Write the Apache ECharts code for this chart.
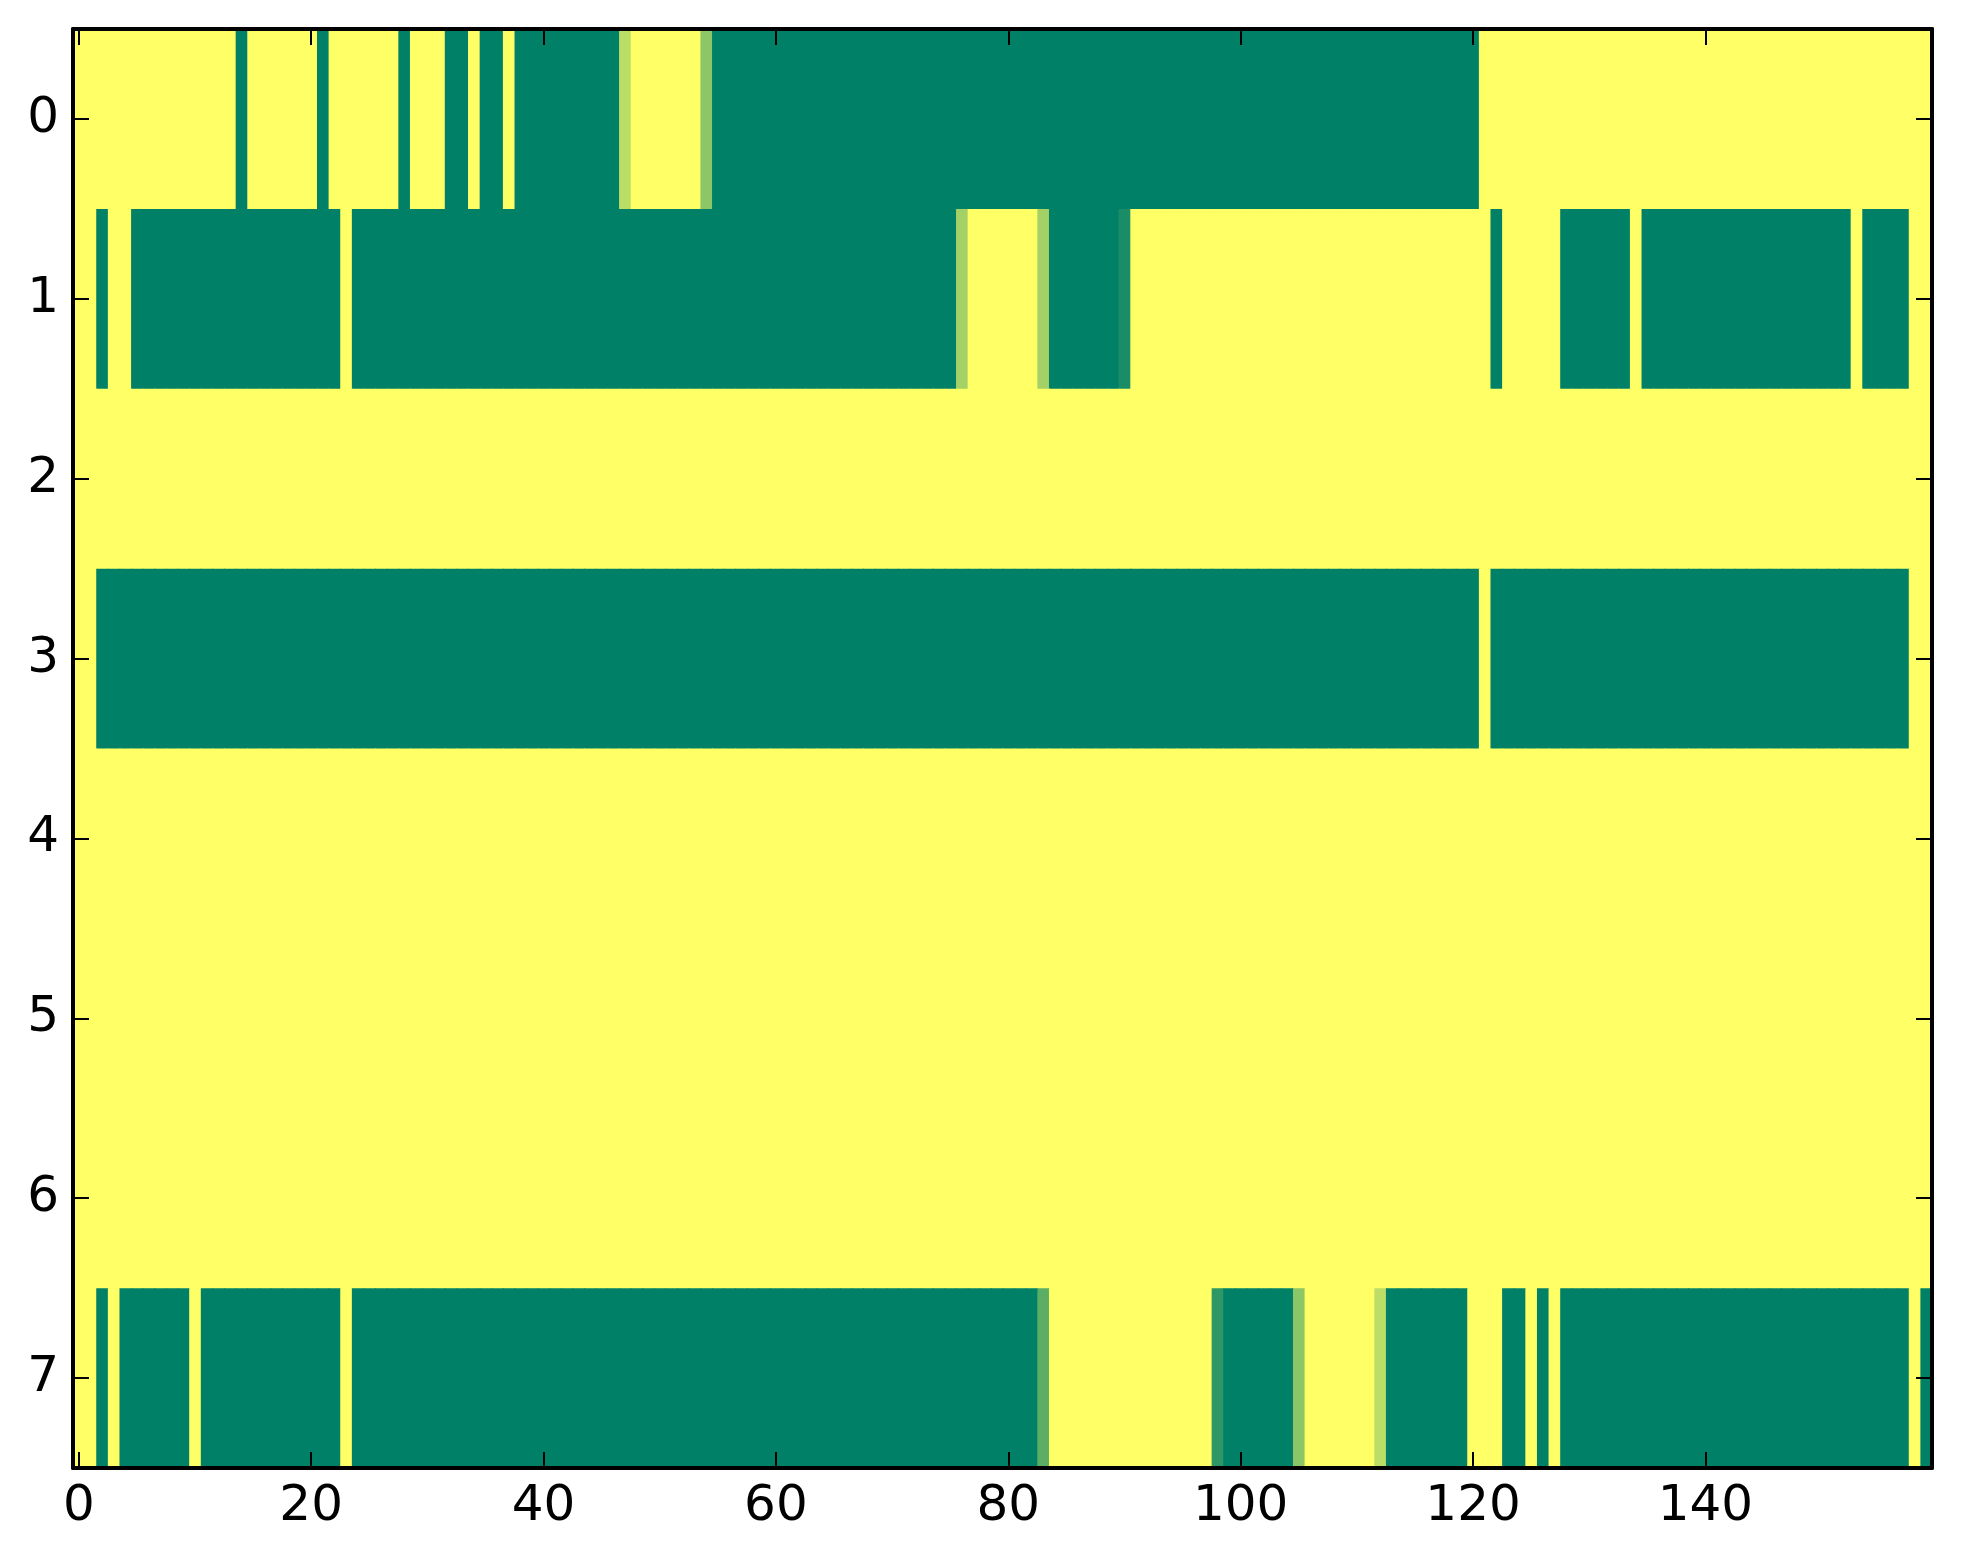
<!DOCTYPE html>
<html>
<head>
<meta charset="utf-8">
<script src="https://cdn.jsdelivr.net/npm/echarts@6/dist/echarts.min.js"></script>
<style>
html,body{margin:0;padding:0;background:#fff;}
#chart{width:1963px;height:1564px;}
</style>
</head>
<body>
<div id="chart"></div>
<script>
// Column indices 0..159 and row labels
const columnCount = 160;
const rowLabels = ['0','1','2','3','4','5','6','7'];
const xTickLabels = ['0','20','40','60','80','100','120','140'];

// Cell values per row (0 = dark green, 1 = yellow), 160 columns each, written in groups of 20
const row0 = [
  1,1,1,1,1,1,1,1,1,1,1,1,1,1,0,1,1,1,1,1,
  1,0,1,1,1,1,1,1,0,1,1,1,0,0,1,0,0,1,0,0,
  0,0,0,0,0,0,0,0.73,1,1,1,1,1,1,0.55,0,0,0,0,0,
  0,0,0,0,0,0,0,0,0,0,0,0,0,0,0,0,0,0,0,0,
  0,0,0,0,0,0,0,0,0,0,0,0,0,0,0,0,0,0,0,0,
  0,0,0,0,0,0,0,0,0,0,0,0,0,0,0,0,0,0,0,0,
  0,1,1,1,1,1,1,1,1,1,1,1,1,1,1,1,1,1,1,1,
  1,1,1,1,1,1,1,1,1,1,1,1,1,1,1,1,1,1,1,1
];
const row1 = [
  1,1,0,1,1,0,0,0,0,0,0,0,0,0,0,0,0,0,0,0,
  0,0,0,1,0,0,0,0,0,0,0,0,0,0,0,0,0,0,0,0,
  0,0,0,0,0,0,0,0,0,0,0,0,0,0,0,0,0,0,0,0,
  0,0,0,0,0,0,0,0,0,0,0,0,0,0,0,0,0.64,1,1,1,
  1,1,1,0.64,0,0,0,0,0,0,0.1,1,1,1,1,1,1,1,1,1,
  1,1,1,1,1,1,1,1,1,1,1,1,1,1,1,1,1,1,1,1,
  1,1,0,1,1,1,1,1,0,0,0,0,0,0,1,0,0,0,0,0,
  0,0,0,0,0,0,0,0,0,0,0,0,0,1,0,0,0,0,1,1
];
const row2 = [
  1,1,1,1,1,1,1,1,1,1,1,1,1,1,1,1,1,1,1,1,
  1,1,1,1,1,1,1,1,1,1,1,1,1,1,1,1,1,1,1,1,
  1,1,1,1,1,1,1,1,1,1,1,1,1,1,1,1,1,1,1,1,
  1,1,1,1,1,1,1,1,1,1,1,1,1,1,1,1,1,1,1,1,
  1,1,1,1,1,1,1,1,1,1,1,1,1,1,1,1,1,1,1,1,
  1,1,1,1,1,1,1,1,1,1,1,1,1,1,1,1,1,1,1,1,
  1,1,1,1,1,1,1,1,1,1,1,1,1,1,1,1,1,1,1,1,
  1,1,1,1,1,1,1,1,1,1,1,1,1,1,1,1,1,1,1,1
];
const row3 = [
  1,1,0,0,0,0,0,0,0,0,0,0,0,0,0,0,0,0,0,0,
  0,0,0,0,0,0,0,0,0,0,0,0,0,0,0,0,0,0,0,0,
  0,0,0,0,0,0,0,0,0,0,0,0,0,0,0,0,0,0,0,0,
  0,0,0,0,0,0,0,0,0,0,0,0,0,0,0,0,0,0,0,0,
  0,0,0,0,0,0,0,0,0,0,0,0,0,0,0,0,0,0,0,0,
  0,0,0,0,0,0,0,0,0,0,0,0,0,0,0,0,0,0,0,0,
  0,1,0,0,0,0,0,0,0,0,0,0,0,0,0,0,0,0,0,0,
  0,0,0,0,0,0,0,0,0,0,0,0,0,0,0,0,0,0,1,1
];
const row4 = row2.slice();
const row5 = row2.slice();
const row6 = row2.slice();
const row7 = [
  1,1,0,1,0,0,0,0,0,0,1,0,0,0,0,0,0,0,0,0,
  0,0,0,1,0,0,0,0,0,0,0,0,0,0,0,0,0,0,0,0,
  0,0,0,0,0,0,0,0,0,0,0,0,0,0,0,0,0,0,0,0,
  0,0,0,0,0,0,0,0,0,0,0,0,0,0,0,0,0,0,0,0,
  0,0,0,0.36,1,1,1,1,1,1,1,1,1,1,1,1,1,1,0.18,0,
  0,0,0,0,0,0.55,1,1,1,1,1,1,0.74,0,0,0,0,0,0,0,
  1,1,1,0,0,1,0,1,0,0,0,0,0,0,0,0,0,0,0,0,
  0,0,0,0,0,0,0,0,0,0,0,0,0,0,0,0,0,0,1,0
];

const rows = [row0,row1,row2,row3,row4,row5,row6,row7];
const columns = [];
for (let i = 0; i < columnCount; i++) columns.push(String(i));
const cells = [];
rows.forEach((r, y) => r.forEach((v, x) => cells.push([x, y, v])));

const FONT = 'DejaVu Sans';
const isTick = (idx) => xTickLabels.indexOf(String(idx)) >= 0;

function renderCell(params, api) {
  const c = api.coord([api.value(0), api.value(1)]);
  const s = api.size([1, 1]);
  return {
    type: 'rect',
    shape: {x: c[0] - s[0] / 2, y: c[1] - s[1] / 2, width: s[0] + 0.9, height: s[1] + 0.9},
    style: {fill: api.visual('color')}
  };
}

const chart = echarts.init(document.getElementById('chart'), null, {renderer: 'canvas'});
chart.setOption({
  animation: false,
  backgroundColor: '#ffffff',
  grid: {left: 73, right: 31, top: 29, bottom: 96, containLabel: false},
  xAxis: [
    {
      type: 'category', data: columns, position: 'bottom', z: 10,
      axisLine: {show: true, lineStyle: {color: '#000', width: 4}},
      axisTick: {show: true, inside: true, alignWithLabel: true, length: 16,
        interval: (i) => isTick(i), lineStyle: {color: '#000', width: 2}},
      axisLabel: {show: true, interval: (i) => isTick(i), margin: 14,
        fontFamily: FONT, fontSize: 50, color: '#000'},
      splitLine: {show: false}
    },
    {
      type: 'category', data: columns, position: 'top', z: 10,
      axisLine: {show: true, lineStyle: {color: '#000', width: 4}},
      axisTick: {show: true, inside: true, alignWithLabel: true, length: 16,
        interval: (i) => isTick(i), lineStyle: {color: '#000', width: 2}},
      axisLabel: {show: false},
      splitLine: {show: false}
    }
  ],
  yAxis: [
    {
      type: 'category', data: rowLabels, inverse: true, position: 'left', z: 10,
      axisLine: {show: true, lineStyle: {color: '#000', width: 4}},
      axisTick: {show: true, inside: true, alignWithLabel: true, length: 16,
        interval: 0, lineStyle: {color: '#000', width: 2}},
      axisLabel: {show: true, interval: 0, margin: 14,
        fontFamily: FONT, fontSize: 50, color: '#000'},
      splitLine: {show: false}
    },
    {
      type: 'category', data: rowLabels, inverse: true, position: 'right', z: 10,
      axisLine: {show: true, lineStyle: {color: '#000', width: 4}},
      axisTick: {show: true, inside: true, alignWithLabel: true, length: 16,
        interval: 0, lineStyle: {color: '#000', width: 2}},
      axisLabel: {show: false},
      splitLine: {show: false}
    }
  ],
  visualMap: {
    show: false, type: 'continuous', min: 0, max: 1, dimension: 2, seriesIndex: 0,
    inRange: {color: ['#008066', '#ffff66']}
  },
  series: [{
    type: 'custom', xAxisIndex: 0, yAxisIndex: 0,
    data: cells, renderItem: renderCell, clip: true, z: 2,
    encode: {x: 0, y: 1},
    emphasis: {disabled: true}, silent: true
  }]
});
</script>
</body>
</html>
